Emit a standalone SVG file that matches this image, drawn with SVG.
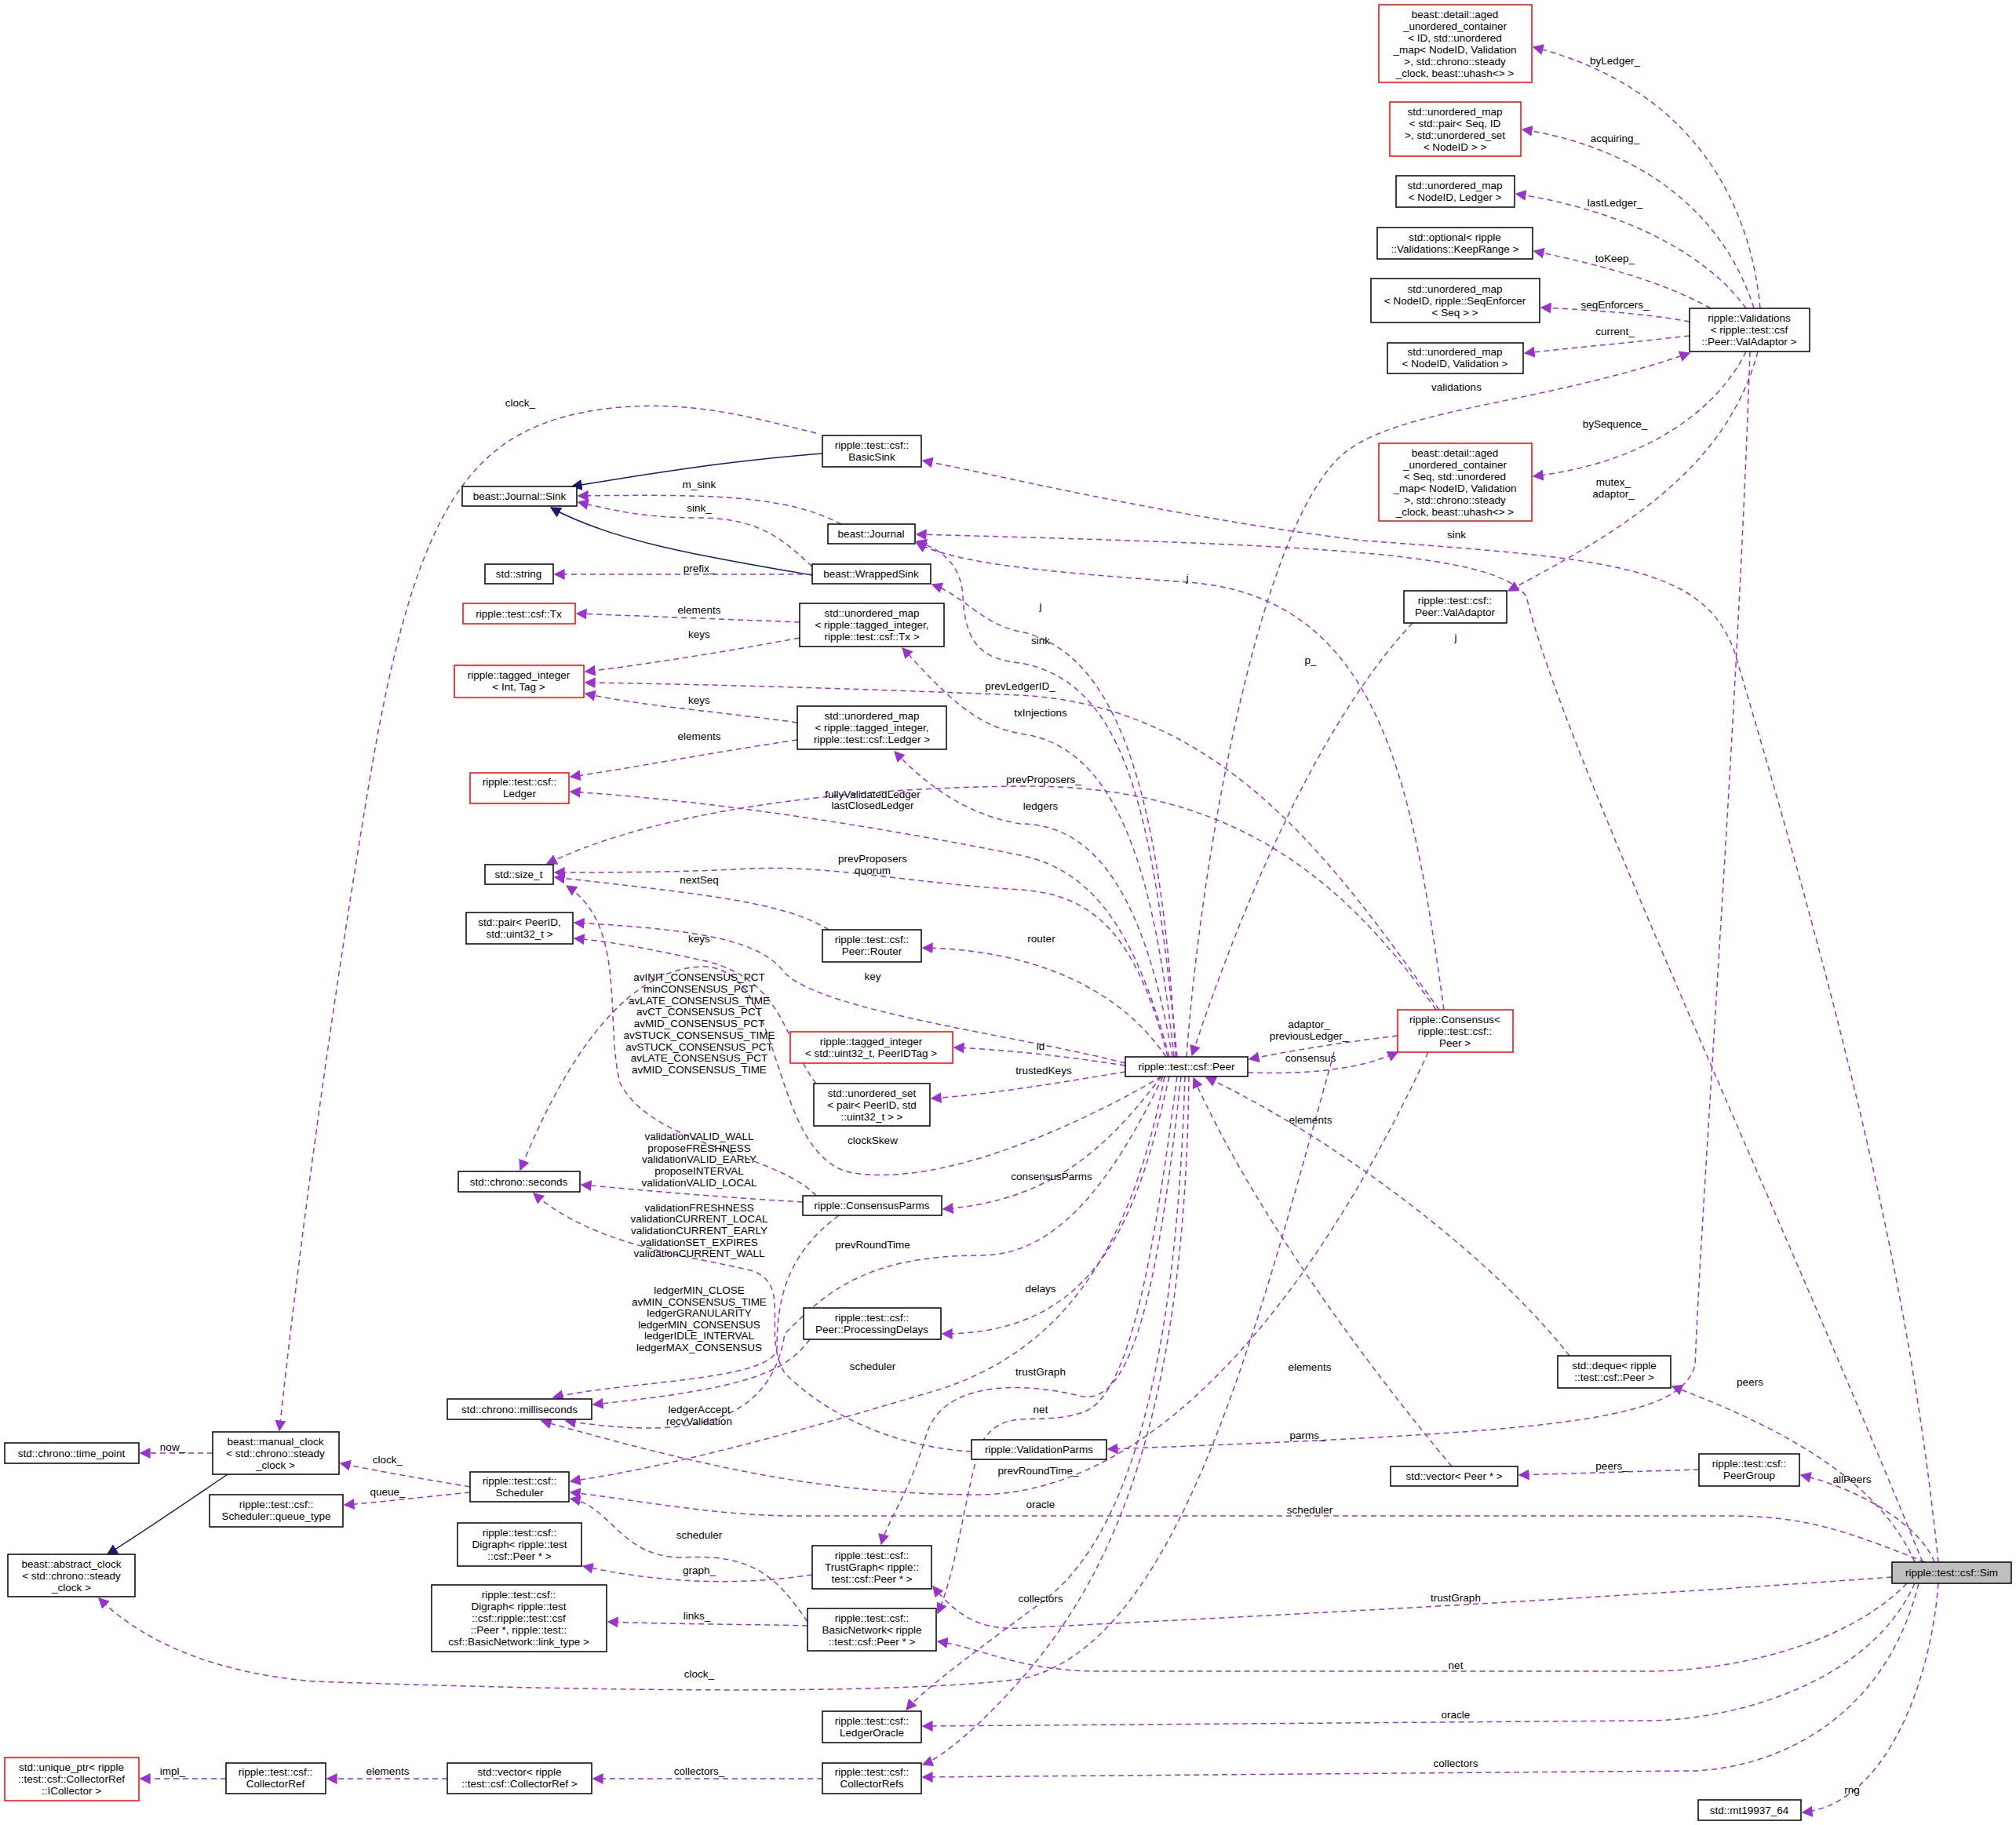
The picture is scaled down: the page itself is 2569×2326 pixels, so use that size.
<svg xmlns="http://www.w3.org/2000/svg" width="2569" height="2326" viewBox="0 0 2569 2326">
<style>
.n rect{fill:#fff;stroke:#000;stroke-width:1.5}
.r rect{stroke:#f00}
.g rect{fill:#bfbfbf}
text{font-family:"Liberation Sans",Arial,sans-serif;font-size:13.5px;fill:#000;text-anchor:middle}
.e path{fill:none;stroke:#9a32cd;stroke-width:1.5;stroke-dasharray:7,5;marker-end:url(#a)}
.e path.i{stroke:#191970;stroke-dasharray:none;marker-end:url(#b)}
</style>
<defs>
<marker id="a" viewBox="0 0 10 10" refX="9" refY="5" markerWidth="14" markerHeight="14" markerUnits="userSpaceOnUse" orient="auto"><path d="M0,0L10,5L0,10z" fill="#9a32cd"/></marker>
<marker id="b" viewBox="0 0 10 10" refX="9" refY="5" markerWidth="14" markerHeight="14" markerUnits="userSpaceOnUse" orient="auto"><path d="M0,0L10,5L0,10z" fill="#191970"/></marker>
</defs>
<rect width="2569" height="2326" fill="#fff"/>
<g class="e" id="edges">
<path d="M2243,393 C2230,250 2150,110 1954,60"/>
<path d="M2235,393 C2200,280 2100,190 1940,165"/>
<path d="M2225,393 C2180,330 2080,270 1932,247"/>
<path d="M2180,393 C2120,360 2050,340 1955,320"/>
<path d="M2153,410 C2100,400 2030,395 1964,392"/>
<path d="M2153,428 C2090,435 2020,442 1943,450"/>
<path d="M1512,1347 C1530,1100 1600,700 1700,590 C1760,520 1950,520 2153,450"/>
<path d="M2225,448 C2190,520 2100,590 1954,607"/>
<path d="M2240,448 C2200,600 2060,680 1922,753"/>
<path d="M2230,448 C2215,900 2170,1500 2160,1740 C2140,1810 2000,1825 1412,1847"/>
<path d="M2440,1991 C2400,1900 2300,1830 2131,1767"/>
<path d="M2470,1991 C2440,1700 2380,1400 2210,830 C2170,720 2050,712 1737,689 C1500,660 1300,612 1176,587"/>
<path d="M2450,1991 C2250,1500 1990,950 1945,760 C1905,705 1700,695 1168,681"/>
<path d="M1840,1287 C1800,1000 1760,760 1513,742 C1350,730 1220,720 1168,692"/>
<path d="M1500,1347 C1470,1050 1440,870 1300,845 C1250,840 1230,820 1227,760 C1225,720 1200,700 1168,690"/>
<path d="M1498,1347 C1480,1000 1420,830 1300,805 C1250,795 1230,760 1188,745"/>
<path d="M1496,1347 C1470,1100 1420,950 1300,935 C1240,925 1200,880 1150,826"/>
<path d="M1834,1287 C1700,1100 1560,900 1300,886 C1100,878 900,872 746,870"/>
<path d="M1019,813 C900,835 800,850 746,856"/>
<path d="M1016,921 C900,905 820,900 746,884"/>
<path d="M1019,793 L735,782"/>
<path d="M1016,943 C900,960 800,980 727,990"/>
<path d="M1494,1347 C1460,1150 1400,1050 1300,1050 C1240,1040 1190,1010 1140,958"/>
<path d="M1490,1347 C1450,1200 1400,1110 1300,1090 C1100,1050 900,1020 727,1009"/>
<path d="M1830,1287 C1700,1100 1550,1000 1300,1002 C1000,1005 800,1050 697,1101"/>
<path d="M1488,1347 C1450,1200 1400,1140 1300,1134 C1150,1125 1050,1100 940,1108 C850,1112 760,1112 707,1112"/>
<path d="M1056,1185 C1000,1150 900,1140 707,1118"/>
<path d="M1040,1524 C990,1470 830,1460 790,1380 C770,1300 800,1180 722,1129"/>
<path d="M1023,1532 C900,1525 800,1515 741,1510"/>
<path d="M1238,1850 C1150,1845 1060,1810 1000,1750 C970,1700 1010,1640 960,1620 C880,1600 760,1590 680,1521"/>
<path d="M1480,1372 C1400,1420 1200,1520 1078,1493 C980,1460 1000,1240 900,1232 C780,1230 700,1400 663,1491"/>
<path d="M1040,1381 C1000,1330 1000,1250 900,1225 C830,1210 780,1200 732,1196"/>
<path d="M1434,1355 C1300,1320 1050,1290 1000,1240 C970,1200 900,1185 732,1176"/>
<path d="M1486,1347 C1420,1250 1300,1210 1176,1208"/>
<path d="M1434,1358 C1350,1345 1280,1338 1216,1335"/>
<path d="M1434,1366 C1350,1380 1260,1395 1187,1400"/>
<path d="M1480,1372 C1420,1450 1350,1530 1202,1541"/>
<path d="M1069,1549 C1000,1600 990,1660 990,1720 C980,1760 800,1760 705,1781"/>
<path d="M1032,1707 C1000,1750 950,1770 756,1790"/>
<path d="M1482,1372 C1420,1500 1350,1600 1250,1600 C1100,1600 1050,1650 1000,1700 C980,1830 850,1830 721,1811"/>
<path d="M1820,1341 C1700,1600 1500,1900 1250,1905 C1050,1905 900,1870 690,1811"/>
<path d="M1490,1372 C1450,1550 1400,1700 1201,1700"/>
<path d="M1484,1372 C1440,1600 1350,1720 1200,1770 C1000,1830 850,1870 727,1888"/>
<path d="M2453,1991 C2350,1950 2300,1932 2200,1932 L1000,1932 C900,1930 800,1910 727,1902"/>
<path d="M1029,2067 C990,2010 960,1980 870,1985 C790,1985 780,1920 727,1910"/>
<path d="M599,1895 C540,1885 480,1875 434,1865"/>
<path d="M599,1902 C540,1908 480,1915 439,1918"/>
<path d="M271,1852 L179,1852"/>
<path class="i" d="M290,1879 C230,1920 170,1960 137,1981"/>
<path d="M1040,552 C950,530 880,510 780,520 C600,540 530,640 470,1000 C420,1300 380,1600 356,1823"/>
<path class="i" d="M1035,733 C900,710 780,690 702,647"/>
<path class="i" d="M1048,578 C900,590 790,610 729,620"/>
<path d="M1072,668 C1000,630 900,630 737,632"/>
<path d="M1035,722 C1000,690 970,660 890,660 C820,660 780,650 737,640"/>
<path d="M1035,732 L707,732"/>
<path d="M1035,2007 C950,2020 850,2020 743,1996"/>
<path d="M1029,2072 C950,2070 850,2070 775,2067"/>
<path d="M1505,1372 C1480,1600 1450,1790 1380,1780 C1300,1760 1200,1760 1180,1830 C1160,1900 1130,1940 1123,1968"/>
<path d="M2411,2010 C2000,2040 1600,2060 1300,2075 C1250,2078 1220,2060 1189,2022"/>
<path d="M1500,1372 C1470,1600 1440,1780 1380,1800 C1320,1820 1280,1790 1250,1840 C1230,1900 1220,2000 1195,2056"/>
<path d="M2430,2018 C2350,2100 2200,2130 2100,2130 L1400,2130 C1300,2130 1250,2100 1195,2092"/>
<path d="M2440,2018 C2380,2150 2200,2193 2100,2193 L1176,2200"/>
<path d="M1510,1372 C1500,1700 1450,1950 1330,2040 C1250,2100 1180,2150 1155,2179"/>
<path d="M2445,2018 C2400,2200 2250,2257 2150,2257 L1176,2265"/>
<path d="M1515,1372 C1510,1800 1420,2000 1310,2130 C1250,2200 1200,2240 1176,2249"/>
<path d="M1700,1341 C1600,1700 1500,2100 1300,2140 C1100,2165 600,2150 400,2143 C250,2130 170,2080 126,2037"/>
<path d="M1590,1367 C1680,1370 1740,1360 1781,1341"/>
<path d="M1781,1320 C1700,1330 1640,1340 1592,1350"/>
<path d="M1800,794 C1700,900 1600,1100 1519,1345"/>
<path d="M2000,1728 C1900,1600 1700,1450 1537,1373"/>
<path d="M1850,1869 C1750,1750 1600,1550 1521,1374"/>
<path d="M2165,1873 L1936,1880"/>
<path d="M2465,1991 C2450,1950 2380,1900 2295,1880"/>
<path d="M2470,2018 C2460,2150 2400,2300 2297,2310"/>
<path d="M1048,2267 L756,2267"/>
<path d="M570,2267 L417,2267"/>
<path d="M288,2267 L179,2267"/>
</g>
<g id="edge-labels">
<text x="2058" y="82">byLedger_</text>
<text x="2058" y="181">acquiring_</text>
<text x="2058" y="263">lastLedger_</text>
<text x="2058" y="334">toKeep_</text>
<text x="2058" y="393">seqEnforcers_</text>
<text x="2058" y="427">current_</text>
<text x="1856" y="498">validations</text>
<text x="2058" y="545">bySequence_</text>
<text x="2056" y="619">mutex_</text><text x="2056" y="634">adaptor_</text>
<text x="1856" y="686">sink</text>
<text x="1513" y="741">j</text>
<text x="1326" y="777">j</text>
<text x="1326" y="821">sink</text>
<text x="1670" y="846">p_</text>
<text x="1855" y="817">j</text>
<text x="1300" y="879">prevLedgerID_</text>
<text x="1326" y="913">txInjections</text>
<text x="1330" y="998">prevProposers_</text>
<text x="1326" y="1032">ledgers</text>
<text x="1327" y="1201">router</text>
<text x="1326" y="1338">id</text>
<text x="1330" y="1369">trustedKeys</text>
<text x="1340" y="1504">consensusParms</text>
<text x="1668" y="1310">adaptor_</text><text x="1668" y="1325">previousLedger_</text>
<text x="1670" y="1353">consensus</text>
<text x="1670" y="1432">elements</text>
<text x="663" y="518">clock_</text>
<text x="891" y="622">m_sink</text>
<text x="891" y="652">sink_</text>
<text x="891" y="729">prefix_</text>
<text x="891" y="782">elements</text>
<text x="891" y="813">keys</text>
<text x="891" y="897">keys</text>
<text x="891" y="943">elements</text>
<text x="1112" y="1017">fullyValidatedLedger</text><text x="1112" y="1031">lastClosedLedger</text>
<text x="1112" y="1099">prevProposers</text><text x="1112" y="1114">quorum</text>
<text x="891" y="1126">nextSeq</text>
<text x="891" y="1201">keys</text>
<text x="1112" y="1249">key</text>
<text x="891" y="1250">avINIT_CONSENSUS_PCT</text><text x="891" y="1265">minCONSENSUS_PCT</text><text x="891" y="1280">avLATE_CONSENSUS_TIME</text><text x="891" y="1294">avCT_CONSENSUS_PCT</text><text x="891" y="1309">avMID_CONSENSUS_PCT</text><text x="891" y="1324">avSTUCK_CONSENSUS_TIME</text><text x="891" y="1339">avSTUCK_CONSENSUS_PCT</text><text x="891" y="1353">avLATE_CONSENSUS_PCT</text><text x="891" y="1368">avMID_CONSENSUS_TIME</text>
<text x="1112" y="1458">clockSkew</text>
<text x="891" y="1453">validationVALID_WALL</text><text x="891" y="1468">proposeFRESHNESS</text><text x="891" y="1482">validationVALID_EARLY</text><text x="891" y="1497">proposeINTERVAL</text><text x="891" y="1512">validationVALID_LOCAL</text>
<text x="891" y="1544">validationFRESHNESS</text><text x="891" y="1558">validationCURRENT_LOCAL</text><text x="891" y="1573">validationCURRENT_EARLY</text><text x="891" y="1588">validationSET_EXPIRES</text><text x="891" y="1602">validationCURRENT_WALL</text>
<text x="1112" y="1591">prevRoundTime</text>
<text x="891" y="1649">ledgerMIN_CLOSE</text><text x="891" y="1664">avMIN_CONSENSUS_TIME</text><text x="891" y="1678">ledgerGRANULARITY</text><text x="891" y="1693">ledgerMIN_CONSENSUS</text><text x="891" y="1707">ledgerIDLE_INTERVAL</text><text x="891" y="1722">ledgerMAX_CONSENSUS</text>
<text x="1326" y="1647">delays</text>
<text x="1112" y="1746">scheduler</text>
<text x="1326" y="1753">trustGraph</text>
<text x="1669" y="1747">elements</text>
<text x="2230" y="1766">peers</text>
<text x="891" y="1801">ledgerAccept</text><text x="891" y="1816">recvValidation</text>
<text x="1326" y="1801">net</text>
<text x="1666" y="1834">parms_</text>
<text x="220" y="1849">now_</text>
<text x="494" y="1865">clock_</text>
<text x="2054" y="1873">peers_</text>
<text x="1323" y="1879">prevRoundTime_</text>
<text x="2360" y="1890">allPeers</text>
<text x="494" y="1906">queue_</text>
<text x="1326" y="1922">oracle</text>
<text x="1669" y="1929">scheduler</text>
<text x="891" y="1961">scheduler</text>
<text x="891" y="2006">graph_</text>
<text x="1326" y="2042">collectors</text>
<text x="1855" y="2041">trustGraph</text>
<text x="888" y="2064">links_</text>
<text x="1855" y="2127">net</text>
<text x="891" y="2138">clock_</text>
<text x="1855" y="2190">oracle</text>
<text x="1855" y="2252">collectors</text>
<text x="220" y="2262">impl_</text>
<text x="494" y="2262">elements</text>
<text x="891" y="2262">collectors_</text>
<text x="2360" y="2286">rng</text>
</g>
<g id="n1" class="n r"><rect x="1757" y="6" width="195" height="99"/><text x="1854" y="23">beast::detail::aged</text><text x="1854" y="38">_unordered_container</text><text x="1854" y="53">&lt; ID, std::unordered</text><text x="1854" y="68">_map&lt; NodeID, Validation</text><text x="1854" y="83">&gt;, std::chrono::steady</text><text x="1854" y="98">_clock, beast::uhash&lt;&gt; &gt;</text></g>
<g id="n2" class="n r"><rect x="1771" y="130" width="167" height="69"/><text x="1854" y="147">std::unordered_map</text><text x="1854" y="162">&lt; std::pair&lt; Seq, ID</text><text x="1854" y="177">&gt;, std::unordered_set</text><text x="1854" y="192">&lt; NodeID &gt; &gt;</text></g>
<g id="n3" class="n"><rect x="1779" y="224" width="151" height="40"/><text x="1854" y="241">std::unordered_map</text><text x="1854" y="256">&lt; NodeID, Ledger &gt;</text></g>
<g id="n4" class="n"><rect x="1755" y="290" width="198" height="40"/><text x="1854" y="307">std::optional&lt; ripple</text><text x="1854" y="322">::Validations::KeepRange &gt;</text></g>
<g id="n5" class="n"><rect x="1747" y="355" width="215" height="56"/><text x="1854" y="373">std::unordered_map</text><text x="1854" y="388">&lt; NodeID, ripple::SeqEnforcer</text><text x="1854" y="403">&lt; Seq &gt; &gt;</text></g>
<g id="n6" class="n"><rect x="1768" y="437" width="173" height="39"/><text x="1854" y="453">std::unordered_map</text><text x="1854" y="468">&lt; NodeID, Validation &gt;</text></g>
<g id="n7" class="n"><rect x="2153" y="393" width="153" height="55"/><text x="2229" y="410">ripple::Validations</text><text x="2229" y="425">&lt; ripple::test::csf</text><text x="2229" y="440">::Peer::ValAdaptor &gt;</text></g>
<g id="n8" class="n r"><rect x="1757" y="565" width="195" height="99"/><text x="1854" y="582">beast::detail::aged</text><text x="1854" y="597">_unordered_container</text><text x="1854" y="612">&lt; Seq, std::unordered</text><text x="1854" y="627">_map&lt; NodeID, Validation</text><text x="1854" y="642">&gt;, std::chrono::steady</text><text x="1854" y="657">_clock, beast::uhash&lt;&gt; &gt;</text></g>
<g id="n9" class="n"><rect x="1789" y="753" width="131" height="41"/><text x="1854" y="770">ripple::test::csf::</text><text x="1854" y="785">Peer::ValAdaptor</text></g>
<g id="n10" class="n"><rect x="1434" y="1347" width="156" height="25"/><text x="1512" y="1364">ripple::test::csf::Peer</text></g>
<g id="n11" class="n r"><rect x="1781" y="1287" width="147" height="54"/><text x="1854" y="1304">ripple::Consensus&lt;</text><text x="1854" y="1319">ripple::test::csf::</text><text x="1854" y="1334">Peer &gt;</text></g>
<g id="n12" class="n"><rect x="1048" y="555" width="126" height="40"/><text x="1111" y="572">ripple::test::csf::</text><text x="1111" y="587">BasicSink</text></g>
<g id="n13" class="n"><rect x="589" y="620" width="146" height="25"/><text x="662" y="637">beast::Journal::Sink</text></g>
<g id="n14" class="n"><rect x="1055" y="668" width="111" height="25"/><text x="1110" y="685">beast::Journal</text></g>
<g id="n15" class="n"><rect x="618" y="719" width="87" height="25"/><text x="661" y="736">std::string</text></g>
<g id="n16" class="n"><rect x="1035" y="719" width="151" height="25"/><text x="1110" y="736">beast::WrappedSink</text></g>
<g id="n17" class="n r"><rect x="590" y="769" width="143" height="26"/><text x="661" y="787">ripple::test::csf::Tx</text></g>
<g id="n18" class="n"><rect x="1019" y="769" width="184" height="55"/><text x="1111" y="786">std::unordered_map</text><text x="1111" y="801">&lt; ripple::tagged_integer,</text><text x="1111" y="816">ripple::test::csf::Tx &gt;</text></g>
<g id="n19" class="n r"><rect x="579" y="848" width="165" height="41"/><text x="661" y="865">ripple::tagged_integer</text><text x="661" y="880">&lt; Int, Tag &gt;</text></g>
<g id="n20" class="n"><rect x="1016" y="900" width="190" height="55"/><text x="1111" y="917">std::unordered_map</text><text x="1111" y="932">&lt; ripple::tagged_integer,</text><text x="1111" y="947">ripple::test::csf::Ledger &gt;</text></g>
<g id="n21" class="n r"><rect x="599" y="985" width="126" height="39"/><text x="662" y="1001">ripple::test::csf::</text><text x="662" y="1016">Ledger</text></g>
<g id="n22" class="n"><rect x="618" y="1102" width="87" height="25"/><text x="661" y="1119">std::size_t</text></g>
<g id="n23" class="n"><rect x="594" y="1163" width="136" height="40"/><text x="662" y="1180">std::pair&lt; PeerID,</text><text x="662" y="1195">std::uint32_t &gt;</text></g>
<g id="n24" class="n"><rect x="1048" y="1185" width="126" height="41"/><text x="1111" y="1202">ripple::test::csf::</text><text x="1111" y="1217">Peer::Router</text></g>
<g id="n25" class="n r"><rect x="1007" y="1315" width="207" height="40"/><text x="1110" y="1332">ripple::tagged_integer</text><text x="1110" y="1347">&lt; std::uint32_t, PeerIDTag &gt;</text></g>
<g id="n26" class="n"><rect x="1037" y="1381" width="148" height="54"/><text x="1111" y="1398">std::unordered_set</text><text x="1111" y="1413">&lt; pair&lt; PeerID, std</text><text x="1111" y="1428">::uint32_t &gt; &gt;</text></g>
<g id="n27" class="n"><rect x="584" y="1493" width="155" height="26"/><text x="661" y="1511">std::chrono::seconds</text></g>
<g id="n28" class="n"><rect x="1023" y="1524" width="177" height="25"/><text x="1111" y="1541">ripple::ConsensusParms</text></g>
<g id="n29" class="n"><rect x="1024" y="1667" width="175" height="40"/><text x="1111" y="1684">ripple::test::csf::</text><text x="1111" y="1699">Peer::ProcessingDelays</text></g>
<g id="n30" class="n"><rect x="570" y="1783" width="184" height="26"/><text x="662" y="1801">std::chrono::milliseconds</text></g>
<g id="n31" class="n"><rect x="6" y="1839" width="171" height="26"/><text x="91" y="1857">std::chrono::time_point</text></g>
<g id="n32" class="n"><rect x="271" y="1825" width="161" height="54"/><text x="351" y="1842">beast::manual_clock</text><text x="351" y="1857">&lt; std::chrono::steady</text><text x="351" y="1872">_clock &gt;</text></g>
<g id="n33" class="n"><rect x="599" y="1876" width="126" height="38"/><text x="662" y="1892">ripple::test::csf::</text><text x="662" y="1907">Scheduler</text></g>
<g id="n34" class="n"><rect x="267" y="1905" width="170" height="41"/><text x="352" y="1922">ripple::test::csf::</text><text x="352" y="1937">Scheduler::queue_type</text></g>
<g id="n35" class="n"><rect x="10" y="1981" width="162" height="54"/><text x="91" y="1998">beast::abstract_clock</text><text x="91" y="2013">&lt; std::chrono::steady</text><text x="91" y="2028">_clock &gt;</text></g>
<g id="n36" class="n"><rect x="583" y="1941" width="158" height="55"/><text x="662" y="1958">ripple::test::csf::</text><text x="662" y="1973">Digraph&lt; ripple::test</text><text x="662" y="1988">::csf::Peer * &gt;</text></g>
<g id="n37" class="n"><rect x="1035" y="1970" width="152" height="55"/><text x="1111" y="1987">ripple::test::csf::</text><text x="1111" y="2002">TrustGraph&lt; ripple::</text><text x="1111" y="2017">test::csf::Peer * &gt;</text></g>
<g id="n38" class="n"><rect x="550" y="2020" width="223" height="85"/><text x="661" y="2037">ripple::test::csf::</text><text x="661" y="2052">Digraph&lt; ripple::test</text><text x="661" y="2067">::csf::ripple::test::csf</text><text x="661" y="2082">::Peer *, ripple::test::</text><text x="661" y="2097">csf::BasicNetwork::link_type &gt;</text></g>
<g id="n39" class="n"><rect x="1029" y="2050" width="164" height="54"/><text x="1111" y="2067">ripple::test::csf::</text><text x="1111" y="2082">BasicNetwork&lt; ripple</text><text x="1111" y="2097">::test::csf::Peer * &gt;</text></g>
<g id="n40" class="n"><rect x="1048" y="2181" width="126" height="40"/><text x="1111" y="2198">ripple::test::csf::</text><text x="1111" y="2213">LedgerOracle</text></g>
<g id="n41" class="n r"><rect x="6" y="2240" width="171" height="55"/><text x="91" y="2257">std::unique_ptr&lt; ripple</text><text x="91" y="2272">::test::csf::CollectorRef</text><text x="91" y="2287">::ICollector &gt;</text></g>
<g id="n42" class="n"><rect x="288" y="2247" width="127" height="39"/><text x="351" y="2263">ripple::test::csf::</text><text x="351" y="2278">CollectorRef</text></g>
<g id="n43" class="n"><rect x="570" y="2247" width="184" height="39"/><text x="662" y="2263">std::vector&lt; ripple</text><text x="662" y="2278">::test::csf::CollectorRef &gt;</text></g>
<g id="n44" class="n"><rect x="1048" y="2247" width="126" height="39"/><text x="1111" y="2263">ripple::test::csf::</text><text x="1111" y="2278">CollectorRefs</text></g>
<g id="n45" class="n"><rect x="1238" y="1835" width="172" height="25"/><text x="1324" y="1852">ripple::ValidationParms</text></g>
<g id="n46" class="n"><rect x="1985" y="1728" width="144" height="41"/><text x="2057" y="1745">std::deque&lt; ripple</text><text x="2057" y="1760">::test::csf::Peer &gt;</text></g>
<g id="n47" class="n"><rect x="1772" y="1869" width="162" height="25"/><text x="1853" y="1886">std::vector&lt; Peer * &gt;</text></g>
<g id="n48" class="n"><rect x="2165" y="1853" width="128" height="41"/><text x="2229" y="1870">ripple::test::csf::</text><text x="2229" y="1885">PeerGroup</text></g>
<g id="n49" class="n g"><rect x="2411" y="1991" width="152" height="27"/><text x="2487" y="2009">ripple::test::csf::Sim</text></g>
<g id="n50" class="n"><rect x="2164" y="2294" width="131" height="26"/><text x="2229" y="2312">std::mt19937_64</text></g>
</svg>
